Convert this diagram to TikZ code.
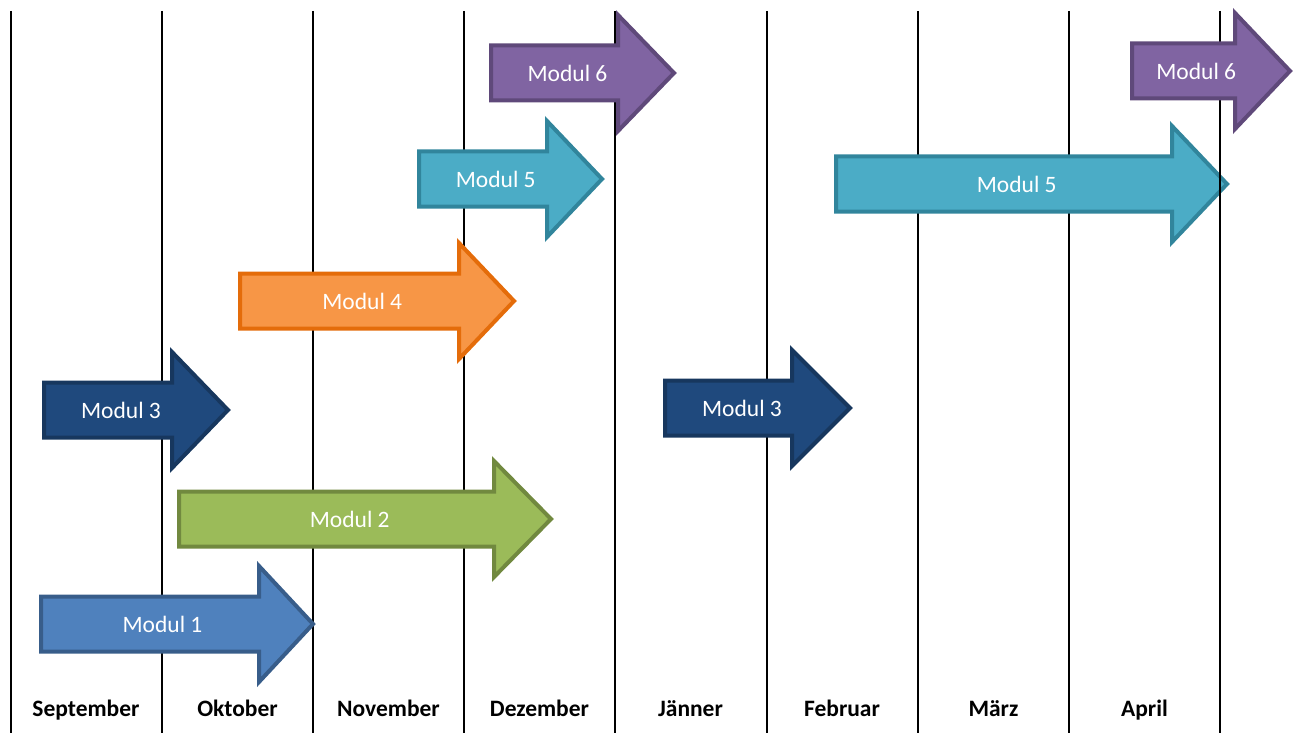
\documentclass[tikz,border=0pt]{standalone}
\usepackage{fontspec}
\setmainfont{Carlito}
\definecolor{c1f}{HTML}{4F81BD}\definecolor{c1d}{HTML}{385D8A}
\definecolor{c2f}{HTML}{9BBB59}\definecolor{c2d}{HTML}{71893F}
\definecolor{c3f}{HTML}{1F497D}\definecolor{c3d}{HTML}{17375E}
\definecolor{c4f}{HTML}{F79646}\definecolor{c4d}{HTML}{E46C0A}
\definecolor{c5f}{HTML}{4BACC6}\definecolor{c5d}{HTML}{31859C}
\definecolor{c6f}{HTML}{8064A2}\definecolor{c6d}{HTML}{5F497A}
\newcommand{\modarrow}[8]{%
  % #1 name, #2 left, #3 head start, #4 tip, #5 centre y, #6 fill, #7 border, #8 text
  \filldraw[fill=#6, draw=#7, line width=4, line join=miter]
    (#2+2,#5-27.5) -- (#3+2,#5-27.5) -- (#3+2,#5-58) -- (#4-2,#5)
    -- (#3+2,#5+58) -- (#3+2,#5+27.5) -- (#2+2,#5+27.5) -- cycle;
  \node[lbl] (#1) at ({(2*#2+#3+#4)/4},#5) {#8};}
\begin{document}
\begin{tikzpicture}[x=1pt,y=-1pt,
  vline/.style={line width=2, black},
  lbl/.style={text=white, font=\fontsize{23.5}{26}\selectfont, inner sep=0},
  month/.style={font=\fontsize{23.5}{26}\selectfont\bfseries, inner sep=0, anchor=base}]
\useasboundingbox (0,0) rectangle (1296,733);
% month grid
\foreach \x/\n in {11/l1,162/l2,313/l3,464/l4,615/l5,767/l6,918/l7,1069/l8}{
  \coordinate (\n t) at (\x,11); \coordinate (\n b) at (\x,733);
  \draw[vline] (\n t) -- (\n b);}
\foreach \x/\m/\n in {86/September/sep,237.5/Oktober/okt,388.5/November/nov,539.5/Dezember/dez,690.5/Jänner/jan,842/Februar/feb,993.5/März/mar,1144.5/April/apr}{
  \node[month] (\n) at (\x,716) {\m};}
% arrows
\modarrow{m1}{39}{257}{315}{624}{c1f}{c1d}{Modul 1}
\modarrow{m2}{177}{492}{553}{519}{c2f}{c2d}{Modul 2}
\modarrow{m3a}{42}{170}{230}{410}{c3f}{c3d}{Modul 3}
\modarrow{m4}{238}{457}{516}{301}{c4f}{c4d}{Modul 4}
\modarrow{m5a}{417}{545}{604}{179}{c5f}{c5d}{Modul 5}
\modarrow{m6a}{489}{616}{676}{73}{c6f}{c6d}{Modul 6}
\modarrow{m3b}{663}{790}{852}{408}{c3f}{c3d}{Modul 3}
\modarrow{m5b}{834}{1170}{1229}{184}{c5f}{c5d}{Modul 5}
\coordinate (l9t) at (1220,11); \coordinate (l9b) at (1220,733);
\draw[vline] (l9t) -- (l9b);
\modarrow{m6b}{1130}{1233}{1292}{71}{c6f}{c6d}{Modul 6}
\end{tikzpicture}
\end{document}
